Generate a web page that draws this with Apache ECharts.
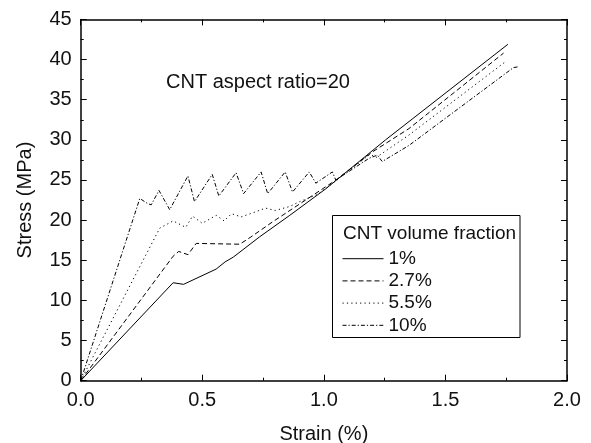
<!DOCTYPE html>
<html>
<head>
<meta charset="utf-8">
<script src="https://cdn.jsdelivr.net/npm/echarts@6/dist/echarts.min.js"></script>
<style>
  html, body { margin: 0; padding: 0; background: #fff; }
  #chart { width: 591px; height: 443px; }
</style>
</head>
<body>
<div id="chart"></div>
<script>
// values
const seriesNames = ['1%', '2.7%', '5.5%', '10%']

const strain1 = [0, 0.38, 0.423, 0.557, 0.594, 0.628, 0.735, 0.86, 1.008, 1.254, 1.757]
const stress1 = [0, 12.2, 12.0, 13.9, 14.8, 15.4, 17.9, 20.6, 23.9, 30.0, 41.9]

const strain2 = [0, 0.38, 0.403, 0.441, 0.475, 0.654, 0.70, 0.79, 0.90, 1.0, 1.05, 1.2, 1.35, 1.739]
const stress2 = [0, 15.5, 16.1, 15.7, 17.1, 17.0, 17.9, 19.8, 22.0, 24.0, 25.0, 28.5, 31.4, 40.8]

const strain3 = [0, 0.325, 0.38, 0.432, 0.46, 0.50, 0.557, 0.59, 0.62, 0.66, 0.707, 0.76, 0.80, 0.86, 0.90, 0.974, 1.05, 1.19, 1.215, 1.35, 1.752]
const stress3 = [0, 19.0, 19.9, 19.1, 20.5, 19.6, 20.6, 19.9, 20.8, 20.4, 20.9, 21.5, 21.2, 21.7, 22.3, 23.2, 24.9, 28.2, 27.8, 30.6, 39.85]

const strain4 = [0, 0.243, 0.273, 0.29, 0.322, 0.366, 0.441, 0.468, 0.541, 0.568, 0.639, 0.67, 0.742, 0.769, 0.841, 0.871, 0.94, 0.967, 1.035, 1.049, 1.186, 1.22, 1.24, 1.35, 1.78, 1.80]
const stress4 = [0, 22.7, 22.1, 21.9, 23.7, 21.3, 25.5, 22.3, 25.7, 23.0, 25.9, 23.3, 26.0, 23.3, 26.0, 23.5, 26.0, 24.6, 26.0, 25.0, 27.7, 28.1, 27.3, 29.3, 39.0, 39.1]

const lineTypes = ['solid', [5, 3], [1.2, 3.2], [4, 2, 1.2, 2]]

const zip = (xs, ys) => xs.map((x, i) => [x, ys[i]])
const allData = [
  zip(strain1, stress1),
  zip(strain2, stress2),
  zip(strain3, stress3),
  zip(strain4, stress4)
]

const FONT = 'Liberation Sans, Arial, sans-serif'
const TXT = '#111'
const FS = 20
const LFS = 19 // legend text

const chart = echarts.init(document.getElementById('chart'), null, { renderer: 'canvas' })

const tickCommon = {
  axisLine: { show: true, onZero: false, lineStyle: { color: '#000', width: 1.5 } },
  axisTick: { show: true, inside: true, length: 6, lineStyle: { color: '#000', width: 1 } },
  minorTick: { show: true, splitNumber: 2, length: 3, lineStyle: { color: '#000', width: 1 } },
  splitLine: { show: false }
}

const option = {
  animation: false,
  backgroundColor: '#fff',
  grid: { left: 80.7, right: 24, top: 19.4, bottom: 62.3, outerBoundsMode: 'none', containLabel: false },
  xAxis: [
    {
      type: 'value',
      min: 0,
      max: 2,
      interval: 0.5,
      name: 'Strain (%)',
      nameLocation: 'middle',
      nameGap: 44,
      nameTextStyle: { fontFamily: FONT, fontSize: FS, color: TXT },
      axisLabel: {
        fontFamily: FONT, fontSize: FS, color: TXT, margin: 10,
        formatter: v => v.toFixed(1)
      },
      ...tickCommon
    },
    {
      type: 'value',
      position: 'top',
      min: 0,
      max: 2,
      interval: 0.5,
      axisLabel: { show: false },
      ...tickCommon
    }
  ],
  yAxis: [
    {
      type: 'value',
      min: 0,
      max: 45,
      interval: 5,
      name: 'Stress (MPa)',
      nameLocation: 'middle',
      nameGap: 45,
      nameTextStyle: { fontFamily: FONT, fontSize: FS, color: TXT },
      axisLabel: { fontFamily: FONT, fontSize: FS, color: TXT, margin: 9 },
      ...tickCommon
    },
    {
      type: 'value',
      position: 'right',
      min: 0,
      max: 45,
      interval: 5,
      axisLabel: { show: false },
      ...tickCommon
    }
  ],
  legend: {
    orient: 'vertical',
    left: 342,
    top: 248.7,
    padding: 0,
    itemWidth: 41,
    itemHeight: 10,
    itemGap: 2.2,
    z: 100,
    itemStyle: { opacity: 0 },
    lineStyle: { width: 1 },
    textStyle: { fontFamily: FONT, fontSize: LFS, color: TXT, lineHeight: 20 },
    data: seriesNames
  },
  graphic: [
    {
      type: 'rect',
      shape: { x: 332.5, y: 215.5, width: 187.5, height: 122 },
      style: { fill: '#fff', stroke: '#000', lineWidth: 1 },
      z: 50
    },
    {
      type: 'text',
      style: {
        x: 343, y: 234, text: 'CNT volume fraction',
        font: LFS + 'px ' + FONT, fill: TXT, textVerticalAlign: 'middle'
      },
      z: 60
    },
    {
      type: 'text',
      style: {
        x: 166, y: 82, text: 'CNT aspect ratio=20',
        font: FS + 'px ' + FONT, fill: TXT, textVerticalAlign: 'middle'
      },
      z: 60
    }
  ],
  series: allData.map((d, i) => ({
    name: seriesNames[i],
    type: 'line',
    data: d,
    symbol: 'none',
    showSymbol: false,
    lineStyle: { color: '#000', width: 1, type: lineTypes[i] },
    itemStyle: { color: '#000' },
    z: 10
  }))
}

chart.setOption(option)
</script>
</body>
</html>
